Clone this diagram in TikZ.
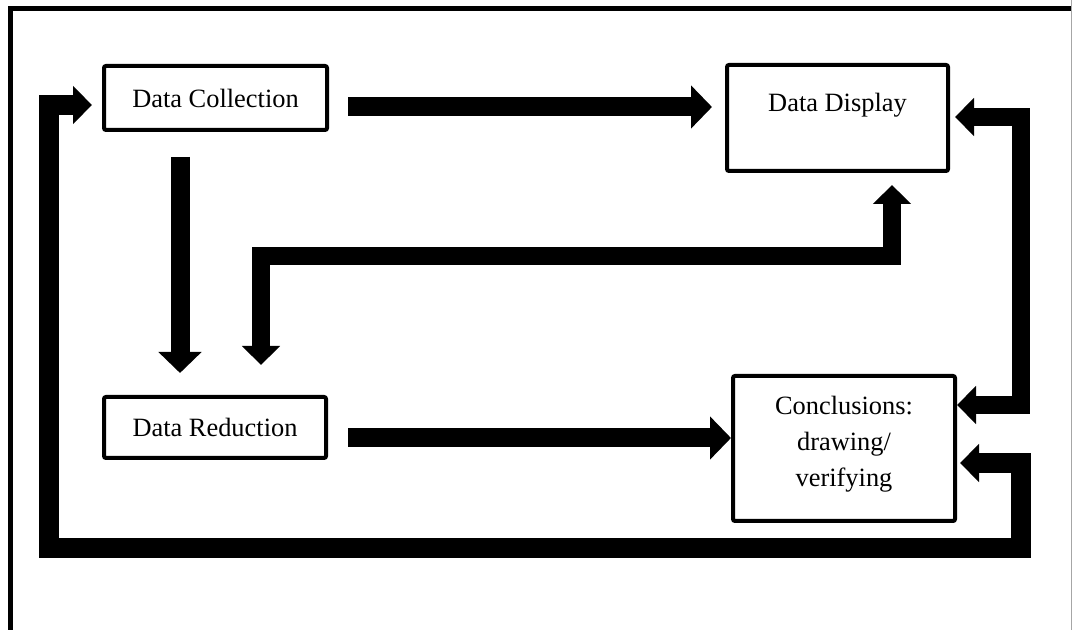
\documentclass[tikz,border=0pt]{standalone}
\usepackage{fontspec}
\setmainfont{Liberation Serif}
\usetikzlibrary{arrows.meta}

\tikzset{
  box/.style={draw, line width=2pt, rounded corners=1pt, inner sep=0pt, align=center},
  fat/.style={line width=9.5pt, -{Triangle[width=21pt,length=10.5pt]}},
  twoway/.style={line width=8.75pt, line join=miter,
    {Triangle[width=18.5pt,length=9.5pt]}-{Triangle[width=18.5pt,length=9.5pt]}},
}

\begin{document}
\begin{tikzpicture}[x=0.5pt, y=-0.5pt, font=\fontsize{13.2}{18}\selectfont]
\useasboundingbox (0,0) rectangle (1072,630);
% frame
\draw[line width=2.5pt, line join=miter] (10.5,630) -- (10.5,8.5) -- (1072,8.5);
\draw[gray!70, line width=0.5pt] (1071,0) -- (1071,630);

% boxes
\node[box, minimum width=111.5pt, minimum height=32pt] (dc) at (215.5,98) {Data Collection};
\node[box, minimum width=110.5pt, minimum height=53pt, text height=9pt, text depth=15pt] (dd) at (837.5,118) {Data Display};
\node[box, minimum width=111pt, minimum height=30.5pt] (dr) at (215,427.5) {Data Reduction};
\node[box, minimum width=111pt, minimum height=72.5pt] (cc) at (844,448.5) {Conclusions:\\ drawing/\\ verifying\rule[-7pt]{0pt}{0pt}};

% bends and free ends
\coordinate (c1) at (348,107);
\coordinate (c2) at (180,157);
\coordinate (c3) at (348,438);
\coordinate (k1) at (892,256);
\coordinate (k2) at (261,256);
\coordinate (r1) at (1021,117);
\coordinate (r2) at (1021,405);
\coordinate (b1) at (1021,463);
\coordinate (b2) at (1021,548);
\coordinate (b3) at (49,548);
\coordinate (b4) at (49,105);

% arrows
\draw[fat, shorten >=6.5pt] (c1) -- (c1 -| dd.west);
\draw[fat, shorten >=11pt] (c2) -- (c2 |- dr.north);
\draw[fat] (c3) -- (c3 -| cc.west);
\draw[twoway, shorten <=6pt, shorten >=15pt] (k1 |- dd.south) -- (k1) -- (k2) -- (k2 |- dr.north);
\draw[twoway, shorten <=2.5pt] (r1 -| dd.east) -- (r1) -- (r2) -- (r2 -| cc.east);
\draw[twoway, line width=10pt, shorten <=1.5pt, shorten >=5pt] (b1 -| cc.east) -- (b1) -- (b2) -- (b3) -- (b4) -- (b4 -| dc.west);
\end{tikzpicture}
\end{document}
